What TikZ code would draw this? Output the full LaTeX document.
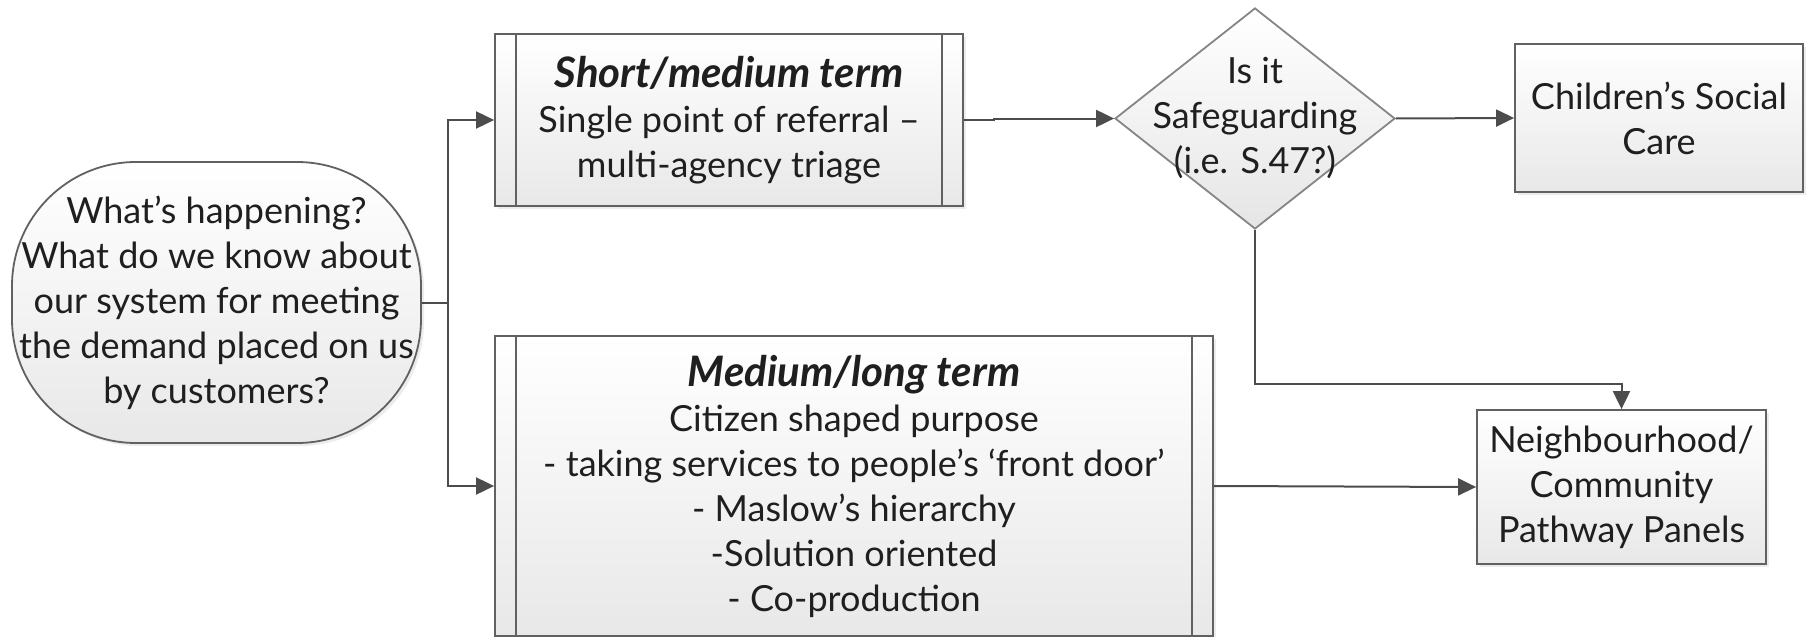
\documentclass[tikz,border=0pt]{standalone}
\usepackage{fontspec}
\setmainfont{Lato}
\usetikzlibrary{shapes.geometric,arrows.meta,shadows}

\newcommand{\termhead}[1]{{\fontsize{21}{24}\selectfont\bfseries\itshape #1}}

\begin{document}
\begin{tikzpicture}[x=0.5pt, y=-0.5pt,
		font=\fontsize{18}{22.5}\selectfont,
		every node/.style={align=center, text=black!88},
		box/.style={draw=black!62, line width=0.9pt, inner sep=0pt,
			top color=white, bottom color=black!9,
			drop shadow={shadow xshift=1.5pt, shadow yshift=-1.5pt, opacity=0.15}},
		startbox/.style={box, rounded corners=62pt},
		decision/.style={diamond, draw=black!48, line width=0.9pt, inner sep=0pt,
			minimum width=140pt, minimum height=110.5pt, aspect=1.27,
			top color=white, bottom color=black!10},
		sidebar/.style={draw=black!62, line width=0.9pt},
		wire/.style={draw=black!70, line width=1pt},
		link/.style={wire, -{Triangle[length=9pt,width=8.5pt]}}]
		
		\useasboundingbox (0,0) rectangle (1812,637);
		
		\node[startbox, minimum width=204.5pt, minimum height=140.5pt] (Start) at (216.5,302.5)
			{What’s happening?\\What do we know about\\our system for meeting\\the demand placed on us\\by customers?};
		\node[box, minimum width=234pt, minimum height=86pt] (Short) at (729,120)
			{\termhead{Short/medium term}\\Single point of referral –\\multi-agency triage};
		\node[box, minimum width=359pt, minimum height=150pt] (Medium) at (854,486)
			{\termhead{Medium/long term}\\Citizen shaped purpose\\- taking services to people’s ‘front door’\\- Maslow’s hierarchy\\-Solution oriented\\- Co-production};
		\node[decision, label={[align=center]center:Is it\\Safeguarding\\(i.e. S.47?)}] (Safe) at (1255,118.5) {};
		\node[box, minimum width=144pt, minimum height=74pt] (Care) at (1659,118)
			{Children’s Social\\Care};
		\node[box, minimum width=144.5pt, minimum height=77pt] (Panels) at (1621.5,487)
			{Neighbourhood/\\Community\\Pathway Panels};
		
		% double side lines of the process boxes
		\foreach \n in {Short,Medium} {
			\draw[sidebar] ([xshift=11pt]\n.north west) -- ([xshift=11pt]\n.south west);
			\draw[sidebar] ([xshift=-11pt]\n.north east) -- ([xshift=-11pt]\n.south east);
		}
		
		\draw[wire] (Start.east) -- ++(26,0) coordinate (Fork);
		\draw[link] (Fork) |- (Short.west);
		\draw[link] (Fork) |- (Medium.west);
		\draw[link] (Short.east) -- ++(30,0) |- (Safe.west);
		\draw[link] (Safe.east) -- (Care.west);
		\draw[link] (Safe.south) -- ++(0,154) -| (Panels.north);
		\draw[link] (Medium.east) -- (Panels.west);
		
	\end{tikzpicture}
\end{document}
